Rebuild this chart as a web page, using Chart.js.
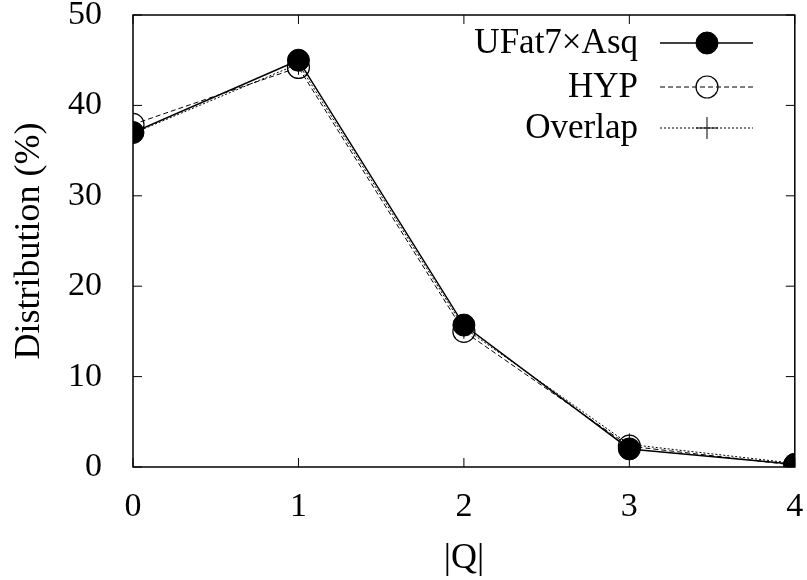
<!DOCTYPE html>
<html>
<head>
<meta charset="utf-8">
<script src="https://cdn.jsdelivr.net/npm/chart.js@4/dist/chart.umd.min.js"></script>
<style>
  html, body { margin: 0; padding: 0; background: #fff; }
  #wrap { width: 807px; height: 580px; }
</style>
</head>
<body>
<div id="wrap"><canvas id="distChart" width="807" height="580"></canvas></div>
<script>
//============================== DATA ==============================//
var qValues = [0, 1, 2, 3, 4];
var ufatValues = [37.0, 45.0, 15.7, 2.0, 0.3];
var hypValues = [37.9, 44.2, 15.0, 2.3, 0.2];
var overlapValues = [36.9, 44.6, 15.4, 2.5, 0.4];
var xTicks = [0, 1, 2, 3, 4];
var yTicks = [0, 10, 20, 30, 40, 50];
var seriesNames = ["UFat7\u00d7Asq", "HYP", "Overlap"];

var serif = "'Liberation Serif', 'DejaVu Serif', serif";

function toPoints(vals){
    var pts = [];
    for(var i = 0; i < qValues.length; i++){
        pts.push({x: qValues[i], y: vals[i]});
    }
    return pts;
}

//============================== FRAME + INWARD TICKS ==============================//
var framePlugin = {
    id: "frame",
    beforeDatasetsDraw: function(chart){
        var ctx = chart.ctx;
        var a = chart.chartArea;
        var xs = chart.scales.x, ys = chart.scales.y;
        var tick = 9;
        ctx.save();
        ctx.strokeStyle = "#000";
        ctx.lineWidth = 1.5;
        ctx.strokeRect(a.left, a.top, a.right - a.left, a.bottom - a.top);
        ctx.lineWidth = 1;
        ctx.beginPath();
        xTicks.forEach(function(v){
            var px = xs.getPixelForValue(v);
            ctx.moveTo(px, a.bottom); ctx.lineTo(px, a.bottom - tick);
            ctx.moveTo(px, a.top); ctx.lineTo(px, a.top + tick);
        });
        yTicks.forEach(function(v){
            var py = ys.getPixelForValue(v);
            ctx.moveTo(a.left, py); ctx.lineTo(a.left + tick, py);
            ctx.moveTo(a.right, py); ctx.lineTo(a.right - tick, py);
        });
        ctx.stroke();
        ctx.restore();
    }
};

//============================== KEY (text left of sample) ==============================//
var keyPlugin = {
    id: "key",
    afterDatasetsDraw: function(chart){
        var ctx = chart.ctx;
        var textRight = 638, lineL = 660, lineR = 753, mid = 707;
        var rows = [43, 87, 128];
        ctx.save();
        ctx.font = "35px " + serif;
        ctx.textAlign = "right";
        ctx.textBaseline = "middle";
        ctx.fillStyle = "#000";
        chart.data.datasets.forEach(function(ds, i){
            var y = rows[i];
            ctx.fillText(seriesNames[i], textRight, y + 1);
            ctx.save();
            ctx.strokeStyle = "#000";
            ctx.lineWidth = ds.borderWidth;
            ctx.setLineDash(ds.borderDash || []);
            ctx.beginPath();
            ctx.moveTo(lineL, y); ctx.lineTo(lineR, y);
            ctx.stroke();
            ctx.restore();
            ctx.save();
            ctx.fillStyle = ds.pointBackgroundColor;
            ctx.strokeStyle = ds.pointBorderColor;
            ctx.lineWidth = ds.pointBorderWidth;
            Chart.helpers.drawPoint(ctx, {
                pointStyle: ds.pointStyle,
                radius: ds.pointRadius,
                rotation: 0,
                borderWidth: ds.pointBorderWidth
            }, mid, y);
            ctx.restore();
        });
        ctx.restore();
    }
};

new Chart("distChart", {
    type: "line",
    data: {
        datasets: [{
            label: seriesNames[0],
            data: toPoints(ufatValues),
            borderColor: "#000",
            borderWidth: 1.5,
            pointStyle: "circle",
            pointRadius: 11,
            pointBackgroundColor: "#000",
            pointBorderColor: "#000",
            pointBorderWidth: 1,
            fill: false,
            tension: 0
        },{
            label: seriesNames[1],
            data: toPoints(hypValues),
            borderColor: "#000",
            borderWidth: 1,
            borderDash: [5, 3],
            pointStyle: "circle",
            pointRadius: 11,
            pointBackgroundColor: "rgba(0,0,0,0)",
            pointBorderColor: "#000",
            pointBorderWidth: 1.2,
            fill: false,
            tension: 0
        },{
            label: seriesNames[2],
            data: toPoints(overlapValues),
            borderColor: "#000",
            borderWidth: 1,
            borderDash: [2, 2],
            pointStyle: "cross",
            pointRadius: 11,
            pointBackgroundColor: "#000",
            pointBorderColor: "#000",
            pointBorderWidth: 1,
            fill: false,
            tension: 0
        }]
    },
    options: {
        responsive: false,
        animation: false,
        layout: { padding: { left: 0, top: 15, right: 10, bottom: 0 } },
        plugins: {
            legend: { display: false },
            tooltip: { enabled: false }
        },
        scales: {
            x: {
                type: "linear",
                min: 0, max: 4,
                grid: { display: false },
                border: { display: false },
                afterFit: function(s){
                    s.height = 113;
                    s.paddingLeft = 0; s.paddingRight = 0;
                },
                afterBuildTicks: function(s){ s.ticks = xTicks.map(function(v){ return {value: v}; }); },
                ticks: { color: "#000", padding: 12, font: { family: serif, size: 34 } },
                title: {
                    display: true, text: "|Q|", color: "#000",
                    padding: { top: 0, bottom: 0 },
                    font: { family: serif, size: 36 }
                }
            },
            y: {
                min: 0, max: 50,
                grid: { display: false },
                border: { display: false },
                afterFit: function(s){
                    s.width = 133;
                    s.paddingTop = 0; s.paddingBottom = 0;
                },
                afterBuildTicks: function(s){ s.ticks = yTicks.map(function(v){ return {value: v}; }); },
                ticks: { color: "#000", padding: 23, font: { family: serif, size: 34 } },
                title: {
                    display: true, text: "Distribution (%)", color: "#000",
                    padding: { top: 8, bottom: 0 },
                    font: { family: serif, size: 36 }
                }
            }
        }
    },
    plugins: [framePlugin, keyPlugin]
});
</script>
</body>
</html>
